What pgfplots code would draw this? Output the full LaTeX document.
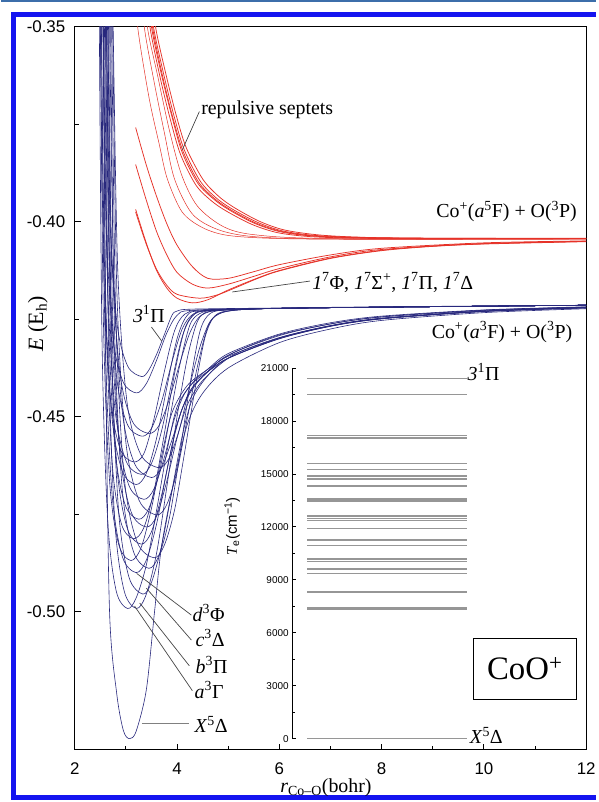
\documentclass[border=0pt]{standalone}
\usepackage{fontspec}
\setmainfont{Liberation Serif}
\setsansfont{Liberation Sans}
\usepackage{pgfplots}
\pgfplotsset{compat=1.18}
\definecolor{pb}{RGB}{40,40,125}
\definecolor{pr}{RGB}{230,50,40}
\definecolor{framec}{RGB}{20,20,240}
\definecolor{ld}{RGB}{70,70,70}
\pgfplotsset{
  pbl/.style={pb, line width=0.6bp, smooth},
  prl/.style={pr, line width=0.75bp, smooth},
}
\newcommand{\lab}{\fontsize{20}{22}\selectfont}
\begin{document}
\begin{tikzpicture}
\fill[white] (0,0) rectangle (597bp,802bp);
\draw[color={rgb,255:red,60;green,110;blue,170}, line width=2bp] (0,801bp) -- (597bp,801bp);
\draw[framec, line width=5bp] (13bp,0) -- (13bp,787.5bp) -- (597bp,787.5bp);
\draw[framec, line width=5bp] (13bp,2.5bp) -- (597bp,2.5bp);

\begin{axis}[at={(74bp,50bp)}, anchor=south west, scale only axis,
  width=513bp, height=725bp, xmin=2, xmax=12, ymin=-0.53542, ymax=-0.35,
  xtick={2,4,...,12}, minor x tick num=1,
  ytick={-0.50,-0.45,-0.40,-0.35}, yticklabels={-0.50,-0.45,-0.40,-0.35},
  minor y tick num=1, tick align=inside, xtick pos=left, ytick pos=left,
  major tick length=6bp, minor tick length=4bp,
  every tick/.style={black, line width=0.9bp}, axis line style={line width=0.9bp},
  tick label style={font=\fontsize{17}{17}\selectfont\sffamily},
  xticklabel style={yshift=-10bp}, yticklabel style={xshift=-6bp},
  /pgf/number format/assume math mode=true]
% ---- blue curves
\addplot[pbl] coordinates {(2.53,-0.335) (2.56,-0.35) (2.61,-0.44) (2.68,-0.50) (2.82,-0.521) (2.95,-0.5305) (3.07,-0.5326) (3.2,-0.5307) (3.40,-0.520) (3.56,-0.50) (3.70,-0.483) (3.95,-0.466) (4.2,-0.452) (4.5,-0.4440) (5.0,-0.4375) (6,-0.4310) (7,-0.4275) (8,-0.4253) (10,-0.4233) (12,-0.4223)};
\addplot[pbl] coordinates {(2.4525,-0.3052) (2.48,-0.35) (2.535,-0.4321) (2.645,-0.4768) (2.81,-0.4947) (3.03,-0.4992) (3.2,-0.4965) (3.4,-0.488) (3.6,-0.474) (3.8,-0.459) (4.0,-0.4475) (4.3,-0.4415) (4.7,-0.4375) (5.0,-0.4350) (6,-0.4298) (7,-0.4267) (8,-0.4248) (10,-0.4230) (12,-0.4220)};
\addplot[pbl] coordinates {(2.5695,-0.3052) (2.60,-0.35) (2.661,-0.4321) (2.783,-0.4768) (2.966,-0.4947) (3.21,-0.4992) (3.4,-0.4955) (3.6,-0.485) (3.8,-0.468) (4.0,-0.450) (4.2,-0.435) (4.4,-0.4255) (4.6,-0.4232) (5.0,-0.4225) (6,-0.4222) (8,-0.4219) (12,-0.4214)};
\addplot[pbl] coordinates {(2.616,-0.3063) (2.65,-0.35) (2.718,-0.4300) (2.854,-0.4737) (3.058,-0.4911) (3.33,-0.4955) (3.5,-0.4925) (3.7,-0.483) (3.9,-0.469) (4.1,-0.455) (4.3,-0.4455) (4.6,-0.4395) (5,-0.4350) (6,-0.4300) (7,-0.4268) (8,-0.4249) (10,-0.4230) (12,-0.4221)};
\addplot[pbl] coordinates {(2.486,-0.308) (2.52,-0.35) (2.588,-0.427) (2.724,-0.469) (2.928,-0.4858) (3.20,-0.4900) (3.4,-0.4868) (3.6,-0.4775) (3.8,-0.464) (4.0,-0.452) (4.25,-0.4435) (4.6,-0.4385) (5,-0.4342) (6,-0.4292) (7,-0.4262) (8,-0.4244) (10,-0.4227) (12,-0.4219)};
\addplot[pbl] coordinates {(2.6625,-0.3083) (2.70,-0.35) (2.775,-0.4264) (2.925,-0.4681) (3.15,-0.4847) (3.45,-0.4889) (3.65,-0.4855) (3.85,-0.476) (4.05,-0.460) (4.25,-0.442) (4.45,-0.428) (4.65,-0.4235) (5.0,-0.4226) (6,-0.4222) (8,-0.4219) (12,-0.4214)};
\addplot[pbl] coordinates {(2.47,-0.3089) (2.50,-0.35) (2.56,-0.4253) (2.68,-0.4664) (2.86,-0.4828) (3.10,-0.4869) (3.3,-0.4835) (3.5,-0.4735) (3.7,-0.460) (3.9,-0.449) (4.2,-0.4420) (4.6,-0.4378) (5,-0.4338) (6,-0.4288) (7,-0.4259) (8,-0.4242) (10,-0.4226) (12,-0.4218)};
\addplot[pbl] coordinates {(2.6785,-0.3091) (2.72,-0.35) (2.803,-0.4249) (2.969,-0.4658) (3.218,-0.4821) (3.55,-0.4862) (3.75,-0.4830) (3.95,-0.474) (4.15,-0.459) (4.35,-0.443) (4.55,-0.4295) (4.75,-0.4240) (5.1,-0.4227) (6,-0.4222) (8,-0.4219) (12,-0.4214)};
\addplot[pbl] coordinates {(2.586,-0.3102) (2.62,-0.35) (2.688,-0.4230) (2.824,-0.4628) (3.028,-0.4787) (3.30,-0.4827) (3.5,-0.4795) (3.7,-0.4700) (3.9,-0.4575) (4.1,-0.4480) (4.35,-0.4420) (4.7,-0.4372) (5,-0.4345) (6,-0.4298) (7,-0.4267) (8,-0.4248) (10,-0.4229) (12,-0.4220)};
\addplot[pbl] coordinates {(2.52,-0.3106) (2.55,-0.35) (2.61,-0.4222) (2.73,-0.4616) (2.91,-0.4774) (3.15,-0.4813) (3.35,-0.4785) (3.55,-0.4690) (3.75,-0.4545) (3.95,-0.4390) (4.15,-0.4275) (4.35,-0.4236) (4.7,-0.4227) (6,-0.4222) (8,-0.4219) (12,-0.4214)};
\addplot[pbl] coordinates {(2.623,-0.3115) (2.66,-0.35) (2.734,-0.4206) (2.882,-0.4591) (3.104,-0.4745) (3.40,-0.4783) (3.6,-0.4755) (3.8,-0.4665) (4.0,-0.4555) (4.2,-0.4470) (4.45,-0.4415) (4.8,-0.4370) (5.2,-0.4335) (6,-0.4297) (7,-0.4266) (8,-0.4247) (10,-0.4229) (12,-0.4220)};
\addplot[pbl] coordinates {(2.5465,-0.3121) (2.58,-0.35) (2.647,-0.4195) (2.781,-0.4574) (2.982,-0.4725) (3.25,-0.4763) (3.45,-0.4735) (3.65,-0.4645) (3.85,-0.4510) (4.05,-0.4370) (4.25,-0.4265) (4.45,-0.4235) (4.8,-0.4226) (6,-0.4222) (8,-0.4219) (12,-0.4214)};
\addplot[pbl] coordinates {(2.697,-0.3124) (2.74,-0.35) (2.826,-0.4189) (2.998,-0.4564) (3.256,-0.4714) (3.60,-0.4752) (3.8,-0.4725) (4.0,-0.4640) (4.2,-0.4505) (4.4,-0.4370) (4.6,-0.4270) (4.8,-0.4237) (5.2,-0.4226) (6,-0.4222) (8,-0.4219) (12,-0.4214)};
\addplot[pbl] coordinates {(2.5835,-0.3136) (2.62,-0.35) (2.693,-0.4167) (2.839,-0.4530) (3.058,-0.4676) (3.35,-0.4712) (3.55,-0.4685) (3.75,-0.4605) (3.95,-0.4505) (4.15,-0.4440) (4.4,-0.4400) (4.8,-0.4360) (5.2,-0.4330) (6,-0.4290) (7,-0.4262) (8,-0.4244) (10,-0.4227) (12,-0.4219)};
\addplot[pbl] coordinates {(2.486,-0.3148) (2.52,-0.35) (2.588,-0.4146) (2.724,-0.4498) (2.928,-0.4639) (3.20,-0.4674) (3.4,-0.4645) (3.6,-0.4555) (3.8,-0.4425) (4.0,-0.4300) (4.2,-0.4240) (4.5,-0.4228) (6,-0.4222) (8,-0.4219) (12,-0.4214)};
\addplot[pbl] coordinates {(2.639,-0.3153) (2.68,-0.35) (2.762,-0.4136) (2.926,-0.4483) (3.172,-0.4621) (3.50,-0.4656) (3.7,-0.4630) (3.9,-0.4560) (4.1,-0.4480) (4.3,-0.4425) (4.6,-0.4385) (5.0,-0.4350) (6,-0.4300) (7,-0.4268) (8,-0.4249) (10,-0.4230) (12,-0.4221)};
\addplot[pbl] coordinates {(2.523,-0.3156) (2.56,-0.35) (2.634,-0.4131) (2.782,-0.4476) (3.004,-0.4614) (3.30,-0.4648) (3.5,-0.4620) (3.7,-0.4535) (3.9,-0.4410) (4.1,-0.4295) (4.3,-0.4242) (4.6,-0.4228) (6,-0.4222) (8,-0.4219) (12,-0.4214)};
\addplot[pbl] coordinates {(2.705,-0.3161) (2.75,-0.35) (2.84,-0.4122) (3.02,-0.4461) (3.29,-0.4597) (3.65,-0.4631) (3.85,-0.4605) (4.05,-0.4530) (4.25,-0.4420) (4.45,-0.4320) (4.65,-0.4255) (4.9,-0.4232) (5.3,-0.4225) (6,-0.4222) (8,-0.4219) (12,-0.4214)};
\addplot[pbl] coordinates {(2.4675,-0.3165) (2.50,-0.35) (2.565,-0.4114) (2.695,-0.4449) (2.89,-0.4583) (3.15,-0.4616) (3.35,-0.4595) (3.55,-0.4505) (3.75,-0.4385) (3.95,-0.4280) (4.15,-0.4237) (4.5,-0.4226) (6,-0.4222) (8,-0.4219) (12,-0.4214)};
\addplot[pbl] coordinates {(2.5645,-0.3185) (2.60,-0.35) (2.671,-0.4077) (2.813,-0.4392) (3.026,-0.4519) (3.31,-0.4550) (3.5,-0.4530) (3.7,-0.4460) (3.9,-0.4360) (4.1,-0.4275) (4.3,-0.4238) (4.6,-0.4227) (6,-0.4222) (8,-0.4219) (12,-0.4214)};
\addplot[pbl] coordinates {(2.5995,-0.3187) (2.64,-0.35) (2.721,-0.4074) (2.883,-0.4387) (3.126,-0.4512) (3.45,-0.4543) (3.65,-0.4522) (3.85,-0.4455) (4.05,-0.4365) (4.25,-0.4285) (4.45,-0.4242) (4.75,-0.4228) (6,-0.4222) (8,-0.4219) (12,-0.4214)};
\addplot[pbl] coordinates {(2.517,-0.3218) (2.55,-0.35) (2.616,-0.4016) (2.748,-0.4298) (2.946,-0.4411) (3.21,-0.4439) (3.4,-0.4415) (3.6,-0.4355) (3.8,-0.4285) (4.0,-0.4240) (4.3,-0.4227) (6,-0.4222) (8,-0.4219) (12,-0.4214)};
\addplot[pbl] coordinates {(2.5855,-0.3231) (2.62,-0.35) (2.689,-0.3993) (2.827,-0.4262) (3.034,-0.4370) (3.31,-0.4397) (3.45,-0.4380) (3.6,-0.4340) (3.75,-0.4290) (3.9,-0.4240) (4.0,-0.4229) (4.3,-0.4224) (6,-0.4221) (8,-0.4218) (12,-0.4214)};
% ---- red curves: repulsive bundle
\addplot[prl] coordinates {(3.44,-0.34) (3.50,-0.350) (3.7,-0.3625) (3.9,-0.3730) (4.1,-0.3822) (4.4,-0.3900) (4.7,-0.3940) (5.0,-0.3968) (5.5,-0.4003) (6.0,-0.4025) (6.6,-0.4036) (7.5,-0.4041) (9,-0.4043) (12,-0.4043)};
\addplot[prl] coordinates {(3.48,-0.34) (3.54,-0.350) (3.74,-0.3622) (3.94,-0.3728) (4.14,-0.3815) (4.45,-0.3895) (4.75,-0.3937) (5.05,-0.3965) (5.55,-0.4000) (6.05,-0.4023) (6.7,-0.4035) (7.6,-0.4040) (9,-0.4042) (12,-0.4042)};
\addplot[prl] coordinates {(3.41,-0.34) (3.47,-0.350) (3.67,-0.3630) (3.87,-0.3738) (4.07,-0.3828) (4.37,-0.3906) (4.67,-0.3946) (4.97,-0.3973) (5.47,-0.4007) (5.97,-0.4028) (6.6,-0.4038) (7.5,-0.4042) (9,-0.4044) (12,-0.4044)};
\addplot[prl] coordinates {(3.52,-0.34) (3.58,-0.350) (3.78,-0.3620) (3.98,-0.3725) (4.18,-0.3810) (4.5,-0.3890) (4.8,-0.3933) (5.1,-0.3962) (5.6,-0.3998) (6.1,-0.4021) (6.8,-0.4034) (7.7,-0.4040) (9,-0.4042) (12,-0.4043)};
\addplot[prl] coordinates {(3.46,-0.34) (3.52,-0.350) (3.72,-0.3628) (3.92,-0.3734) (4.12,-0.3820) (4.42,-0.3898) (4.72,-0.3939) (5.02,-0.3967) (5.52,-0.4002) (6.02,-0.4024) (6.65,-0.4036) (7.5,-0.4041) (9,-0.4043) (12,-0.4043)};
% thinner repulsive
\addplot[prl, line width=0.5bp] coordinates {(3.21,-0.34) (3.23,-0.35) (3.45,-0.3680) (3.65,-0.3800) (3.81,-0.3890) (4.1,-0.3975) (4.5,-0.4015) (5,-0.4035) (6,-0.4043) (8,-0.4045) (12,-0.4044)};
\addplot[prl, line width=0.5bp] coordinates {(3.34,-0.34) (3.36,-0.35) (3.55,-0.3640) (3.75,-0.3770) (3.95,-0.3890) (4.3,-0.3980) (4.8,-0.4020) (5.5,-0.4038) (7,-0.4044) (12,-0.4044)};
\addplot[prl, line width=0.5bp] coordinates {(3.40,-0.34) (3.42,-0.35) (3.62,-0.3625) (3.85,-0.3765) (4.09,-0.3880) (4.4,-0.3960) (4.9,-0.4012) (5.5,-0.4033) (7,-0.4043) (12,-0.4044)};
% bound septets
\addplot[prl] coordinates {(3.19,-0.3968) (3.4,-0.4055) (3.6,-0.4125) (3.8,-0.4170) (4.0,-0.4196) (4.3,-0.4208) (4.6,-0.4200) (5.0,-0.4175) (5.5,-0.4148) (6,-0.4125) (7,-0.4093) (8,-0.4073) (9,-0.4062) (10,-0.4056) (12,-0.4050)};
\addplot[prl] coordinates {(3.19,-0.3975) (3.4,-0.4058) (3.6,-0.4122) (3.8,-0.4163) (4.0,-0.4186) (4.45,-0.4196) (4.8,-0.4187) (5.2,-0.4166) (5.6,-0.4144) (6,-0.4126) (7,-0.4094) (8,-0.4074) (9,-0.4063) (10,-0.4057) (12,-0.4051)};
\addplot[prl] coordinates {(3.19,-0.3853) (3.4,-0.3945) (3.6,-0.4025) (3.8,-0.4085) (4.0,-0.4130) (4.3,-0.4160) (4.6,-0.4170) (5.0,-0.4160) (5.5,-0.4140) (6,-0.4120) (7,-0.4090) (8,-0.4071) (10,-0.4056) (12,-0.4050)};
\addplot[prl] coordinates {(3.19,-0.3758) (3.4,-0.3855) (3.6,-0.3935) (3.8,-0.4005) (4.0,-0.4060) (4.3,-0.4115) (4.6,-0.4145) (5.0,-0.4145) (5.5,-0.4128) (6,-0.4110) (7,-0.4085) (8,-0.4068) (10,-0.4054) (12,-0.4049)};
% ---- annotations
\node[anchor=west, font=\lab, inner sep=0] at (axis cs:4.47,-0.3712) {repulsive septets};
\draw[ld, line width=0.7bp] (axis cs:4.105,-0.3815) -- (axis cs:4.437,-0.3717);
\node[anchor=east, font=\lab, inner sep=0] at (axis cs:11.82,-0.3973) {Co\textsuperscript{+}(\textit{a}\textsuperscript{5}F) + O(\textsuperscript{3}P)};
\node[anchor=west, font=\lab, inner sep=0] at (axis cs:6.64,-0.4156) {\textit{1}\textsuperscript{7}Φ, \textit{1}\textsuperscript{7}Σ\textsuperscript{+}, \textit{1}\textsuperscript{7}Π, \textit{1}\textsuperscript{7}Δ};
\draw[ld, line width=0.7bp] (axis cs:5.08,-0.4180) -- (axis cs:6.60,-0.4152);
\node[anchor=east, font=\lab, inner sep=0] at (axis cs:11.73,-0.4283) {Co\textsuperscript{+}(\textit{a}\textsuperscript{3}F) + O(\textsuperscript{3}P)};
\node[font=\lab, inner sep=0] at (axis cs:3.45,-0.4237) {\textit{3}\textsuperscript{1}Π};
\draw[ld, line width=0.7bp] (axis cs:3.50,-0.4270) -- (axis cs:3.70,-0.4306);
\node[anchor=west, font=\lab, inner sep=0] at (axis cs:4.30,-0.5004) {\textit{d}\textsuperscript{3}Φ};
\draw[ld, line width=0.7bp] (axis cs:3.21,-0.4902) -- (axis cs:4.28,-0.5009);
\node[anchor=west, font=\lab, inner sep=0] at (axis cs:4.36,-0.5068) {\textit{c}\textsuperscript{3}Δ};
\draw[ld, line width=0.7bp] (axis cs:3.40,-0.4940) -- (axis cs:4.28,-0.5073);
\node[anchor=west, font=\lab, inner sep=0] at (axis cs:4.36,-0.5137) {\textit{b}\textsuperscript{3}Π};
\draw[ld, line width=0.7bp] (axis cs:3.27,-0.4978) -- (axis cs:4.24,-0.5139);
\node[anchor=west, font=\lab, inner sep=0] at (axis cs:4.34,-0.5201) {\textit{a}\textsuperscript{3}Γ};
\draw[ld, line width=0.7bp] (axis cs:3.17,-0.4986) -- (axis cs:4.30,-0.5203);
\node[anchor=west, font=\lab, inner sep=0] at (axis cs:4.34,-0.5290) {\textit{X}\textsuperscript{5}Δ};
\draw[gray, line width=0.9bp] (axis cs:3.31,-0.5288) -- (axis cs:4.24,-0.5288);
\node[anchor=west, font=\lab, inner sep=0] at (axis cs:9.68,-0.4385) {\textit{3}\textsuperscript{1}Π};
\node[anchor=west, font=\lab, inner sep=0] at (axis cs:9.72,-0.5318) {\textit{X}\textsuperscript{5}Δ};
\node[draw, line width=0.9bp, minimum width=104bp, minimum height=62bp, inner sep=0, font=\fontsize{33}{33}\selectfont] at (axis cs:10.80,-0.5147) {CoO\textsuperscript{+}};
\end{axis}

\begin{axis}[at={(292bp,61bp)}, anchor=south west, scale only axis, width=175bp, height=372bp,
  xmin=0, xmax=175, ymin=0, ymax=21000, axis y line*=left, axis x line=none,
  ytick={0,3000,...,21000}, minor y tick num=1, tick align=inside,
  yticklabel style={font=\fontsize{10}{10}\selectfont\sffamily},
  /pgf/number format/assume math mode=true, /pgf/number format/1000 sep={},
  scaled y ticks=false, clip=false, major tick length=4bp, minor tick length=2.5bp,
  every tick/.style={black, line width=0.6bp}, axis line style={line width=0.7bp}]
\pgfplotsinvokeforeach{0,7340,7390,8300,9370,9600,10030,10180,10950,11250,11910,12360,12475,12605,13470,13565,14300,14695,14886,15260,15580,17030,17180,19476,20380}{
  \addplot[color={rgb,255:red,150;green,150;blue,150}, line width=1.4bp] coordinates {(15,#1) (175,#1)};
}
\end{axis}

\node[rotate=90, font=\fontsize{22}{22}\selectfont] at (37bp,477bp) {\textit{E} (E\textsubscript{h})};
\node[font=\fontsize{20}{20}\selectfont] at (326bp,12bp) {\textit{r}\textsubscript{Co–O}(bohr)};
\node[rotate=90, font=\fontsize{15}{15}\selectfont\sffamily] at (232bp,274bp) {\textit{\rmfamily T}\textsubscript{e}(cm\textsuperscript{−1})};
\path (0,0) rectangle (597bp,802bp);
\end{tikzpicture}
\end{document}
